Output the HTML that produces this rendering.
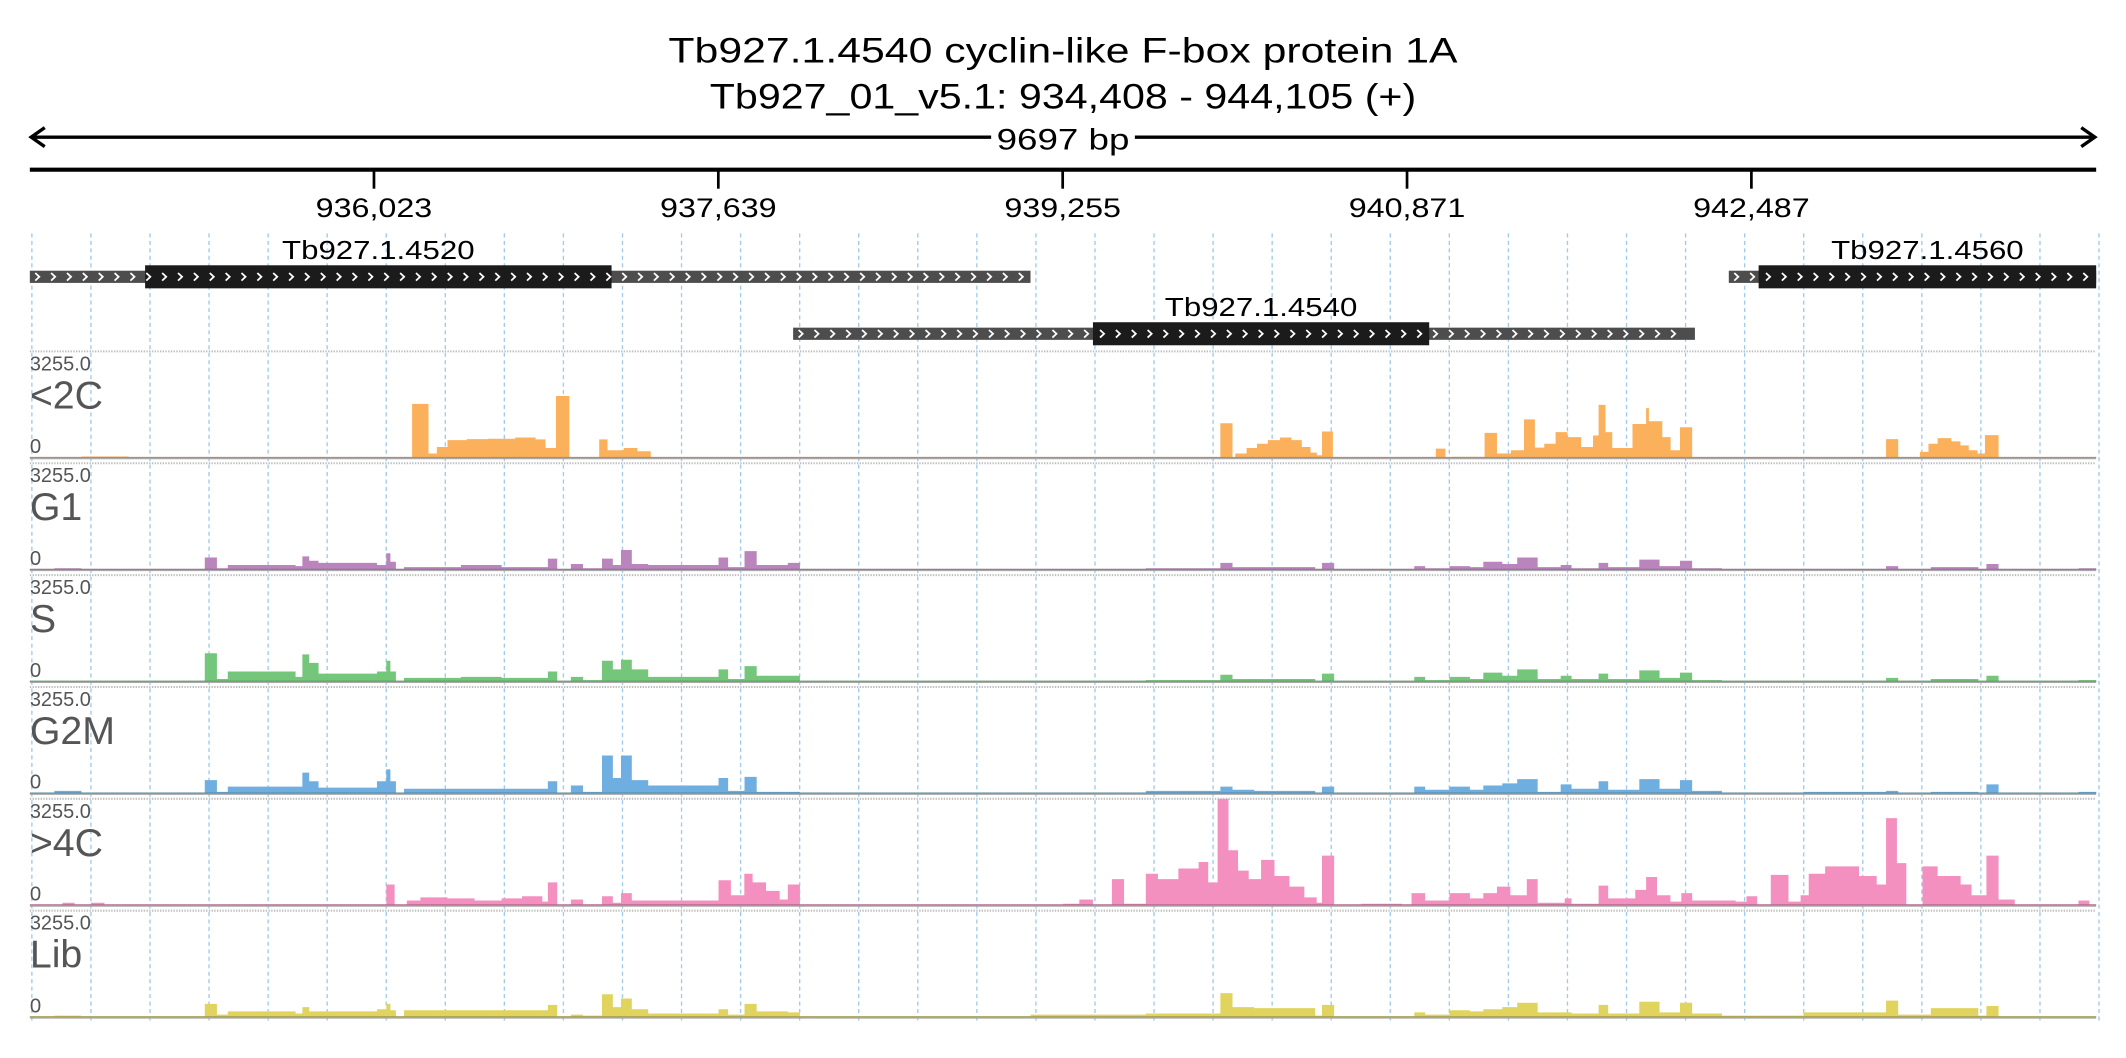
<!DOCTYPE html>
<html><head><meta charset="utf-8"><title>Tb927.1.4540 coverage</title>
<style>
html,body{margin:0;padding:0;background:#fff;}
svg{display:block;font-family:"Liberation Sans",sans-serif;}
</style></head>
<body>
<svg id="chart" width="2126" height="1058" viewBox="0 0 1568 780" xmlns="http://www.w3.org/2000/svg">
<rect x="0" y="0" width="1568" height="780" fill="#fff"/>
<text x="784" y="46" text-anchor="middle" font-size="26" textLength="582" lengthAdjust="spacingAndGlyphs">Tb927.1.4540  cyclin-like F-box protein 1A</text>
<text x="784" y="80" text-anchor="middle" font-size="26" textLength="521" lengthAdjust="spacingAndGlyphs">Tb927_01_v5.1: 934,408 - 944,105 (+)</text>
<g>
<line x1="23" y1="101" x2="1545" y2="101" stroke="#000" stroke-width="2.5"/>
<polyline points="33,94 23,101 33,108" fill="none" stroke="#000" stroke-width="2.5"/>
<polyline points="1535,94 1545,101 1535,108" fill="none" stroke="#000" stroke-width="2.5"/>
<rect x="731" y="88" width="106" height="26" fill="#fff"/>
<text x="784" y="110" text-anchor="middle" font-size="22" textLength="98" lengthAdjust="spacingAndGlyphs">9697 bp</text>
</g>
<g id="axis"></g>
<g id="grid"></g>
<g id="genes"></g>
<g id="tracks"></g>
</svg>
<script>
const REG_START = 934408;
const REG_LEN = 9697;
const Y_MAX = 3255;
const tickLabels = ["936,023","937,639","939,255","940,871","942,487"];
const tickBp = [936023,937639,939255,940871,942487];

const geneNames = ["Tb927.1.4520","Tb927.1.4540","Tb927.1.4560"];
const geneRow = [0,1,0];
const geneStart = [0,3582,7973];
const geneEnd = [4696,7814,9697];
const cdsStart = [541,4989,8113];
const cdsEnd = [2730,6567,9697];

const trackNames = ["<2C","G1","S","G2M",">4C","Lib"];

const sharedPos = [0,115,242,821,878,929,1247,1279,1311,1355,1629,1673,1692,1718,1756,2023,2214,2431,2475,2539,2596,2685,2736,2774,2825,2902,3232,3277,3354,3411,3557,3614,4696,5237,5587,5644,5746,6032,6064,6121,6497,6548,6662,6758,6821,6910,6980,7076,7184,7235,7362,7407,7553,7648,7744,7801,7941,8323,8711,8768,8921,9144,9182,9239,9405,9614];
const g1Vals = [0,65,16,391,65,163,130,423,293,228,163,521,260,33,98,163,98,358,33,195,65,358,163,618,195,163,391,98,586,163,228,16,33,65,228,98,98,33,228,33,130,65,130,98,260,195,391,98,163,65,228,98,326,130,293,65,33,33,130,33,98,33,195,33,33,65];
const sVals = [0,33,33,879,98,326,163,846,586,260,326,651,326,33,130,163,130,326,33,163,65,651,391,684,391,163,391,98,488,195,195,16,33,65,228,98,98,33,260,33,163,65,163,98,293,195,391,98,195,98,260,98,358,130,293,65,33,33,130,33,98,33,195,33,33,65];
const g2mVals = [0,98,33,423,65,228,228,651,391,195,391,749,391,33,163,163,163,391,33,260,65,1172,488,1172,423,260,488,98,521,65,65,16,33,98,228,130,98,33,228,33,228,130,228,130,260,326,456,65,293,163,391,130,456,163,423,98,33,65,98,33,65,33,293,33,33,65];
const libVals = [0,65,16,423,98,195,130,326,195,195,260,423,228,33,228,228,228,391,33,98,65,716,326,586,260,130,260,98,423,195,163,16,98,130,749,326,293,65,391,33,163,98,228,195,260,326,456,163,163,130,391,130,488,163,456,130,65,163,521,98,293,65,358,33,33,33];

const c2Pos = [0,242,464,1794,1871,1910,1960,2050,2151,2278,2373,2420,2469,2532,2672,2711,2787,2851,2914,5587,5644,5657,5710,5759,5810,5867,5920,5969,6010,6040,6064,6115,6598,6643,6675,6827,6885,6950,7012,7063,7107,7160,7216,7280,7336,7362,7394,7426,7521,7585,7598,7661,7700,7744,7801,8711,8768,8870,8910,8953,9017,9060,9099,9140,9175,9239];
const c2Vals = [0,60,0,1660,150,350,560,590,600,640,580,320,1900,0,580,250,320,220,0,1070,0,150,320,450,560,640,560,350,180,100,820,0,300,0,50,780,150,250,1190,330,450,800,650,350,700,1630,800,320,1050,1530,1130,650,250,950,0,590,0,200,450,620,520,400,250,150,710,0];

const c4Pos = [0,153,210,286,350,1005,1069,1610,1673,1712,1769,1833,1960,2087,2214,2310,2405,2431,2475,2539,2596,2685,2736,2774,2825,3042,3232,3290,3353,3392,3455,3519,3557,3614,4849,4925,4989,5078,5135,5237,5294,5390,5485,5530,5574,5625,5670,5720,5778,5841,5911,5981,6039,6064,6121,6248,6439,6484,6548,6662,6758,6821,6885,6948,7025,7076,7203,7235,7362,7407,7534,7585,7636,7699,7750,7801,8005,8056,8106,8170,8253,8310,8348,8425,8584,8667,8711,8762,8806,8882,8953,9061,9112,9182,9239,9315,9430,9557,9614,9665];
const c4Vals = [0,98,33,98,0,33,0,33,651,33,163,260,228,163,228,293,130,716,0,195,33,293,98,391,163,163,781,326,977,716,456,195,651,0,65,195,0,814,65,977,814,1139,1335,716,3255,1693,1074,814,1400,911,586,260,98,1530,0,65,0,391,163,391,228,391,586,326,814,98,228,65,618,228,488,879,326,130,391,163,130,293,0,944,130,326,977,1204,911,651,2669,1302,33,1204,911,651,326,1530,195,0,33,0,163,0];

const NS = "http://www.w3.org/2000/svg";
const X0 = 22, X1 = 1546;
function xs(off){ return X0 + off / REG_LEN * (X1 - X0); }
function mk(tag, attrs, parent){
  const e = document.createElementNS(NS, tag);
  for (const k in attrs) e.setAttribute(k, attrs[k]);
  parent.appendChild(e);
  return e;
}

// axis
const axis = document.getElementById('axis');
mk('line',{x1:X0,y1:125,x2:X1,y2:125,stroke:'#000','stroke-width':3},axis);
tickBp.forEach((bp,i)=>{
  const x = xs(bp - REG_START);
  const t = mk('line',{x1:x,y1:125,x2:x,y2:139,stroke:'#000','stroke-width':2},axis);
  
  
  const lb = mk('text',{x:x,y:160,'text-anchor':'middle','font-size':20,textLength:86,lengthAdjust:'spacingAndGlyphs'},axis);
  
  
  lb.textContent = tickLabels[i];
});

// grid
const grid = document.getElementById('grid');
for (let k=0;k<36;k++){
  const x = 23.5 + k*43.56;
  const g = mk('line',{x1:x,y1:172,x2:x,y2:753,stroke:'#9ecbee','stroke-width':1,'stroke-dasharray':'3,2.5'},grid);
  
  
}

// genes
const genes = document.getElementById('genes');
geneNames.forEach((name,i)=>{
  const cy = geneRow[i] === 0 ? 204 : 246;
  const grp = mk('g',{},genes);
  
  
  const gx0 = xs(geneStart[i]), gx1 = xs(geneEnd[i]);
  mk('rect',{x:gx0,y:cy-4.5,width:gx1-gx0,height:9,fill:'#4d4d4d'},grp);
  const cx0 = xs(cdsStart[i]), cx1 = xs(cdsEnd[i]);
  mk('rect',{x:cx0,y:cy-8.5,width:cx1-cx0,height:17,fill:'#1b1b1b'},grp);
  let d = '';
  for (let x = gx0 + 4; x < gx1 - 6; x += 11.7){
    d += 'M'+x.toFixed(1)+','+(cy-2.8)+' l3,2.8 l-3,2.8 ';
  }
  mk('path',{d:d,fill:'none',stroke:'#fff','stroke-width':1.3},grp);
  const lb = mk('text',{x:(cx0+cx1)/2,y:cy-13,'text-anchor':'middle','font-size':19,textLength:142,lengthAdjust:'spacingAndGlyphs'},grp);
  
  
  lb.textContent = name;
});

// coverage tracks
const tracks = document.getElementById('tracks');
const trackPos = [c2Pos, sharedPos, sharedPos, sharedPos, c4Pos, sharedPos];
const trackVals = [c2Vals, g1Vals, sVals, g2mVals, c4Vals, libVals];
const fills = ['#fbb05c','#b985bc','#74c67a','#6eaee0','#f490c0','#e0d45f'];
const lines = ['#c8884a','#8f6a92','#5a9a60','#55889f','#b36a8d','#aaa055'];
trackNames.forEach((nm,ti)=>{
  const top = 259 + ti*82.5;
  const base = top + 79;
  const grp = mk('g',{},tracks);
  
  
  mk('line',{x1:X0,y1:top,x2:X1,y2:top,stroke:'#bdbdbd','stroke-width':1.5,'stroke-dasharray':'1,1'},grp);
  const pos = trackPos[ti], vals = trackVals[ti];
  const ys = v => base - v / Y_MAX * (base - top);
  let d = 'M'+xs(pos[0]).toFixed(2)+','+base;
  for (let i=0;i<pos.length;i++){
    const a = xs(pos[i]);
    const b = xs(i+1<pos.length ? pos[i+1] : REG_LEN);
    const y = ys(vals[i]).toFixed(2);
    d += ' L'+a.toFixed(2)+','+y+' L'+b.toFixed(2)+','+y;
  }
  d += ' L'+xs(REG_LEN).toFixed(2)+','+base+' Z';
  const area = mk('path',{d:d,fill:fills[ti],stroke:'none'},grp);
  
  
  mk('line',{x1:X0,y1:base,x2:X1,y2:base,stroke:'#a8a8a8','stroke-width':1.2},grp);
  mk('line',{x1:X0,y1:base-0.8,x2:X1,y2:base-0.8,stroke:lines[ti],'stroke-width':0.8},grp);
  const mx = mk('text',{x:22,y:top+14,'font-size':15,fill:'#555',textLength:45,lengthAdjust:'spacingAndGlyphs'},grp);
  
  
  mx.textContent = '3255.0';
  const nl = mk('text',{x:22,y:top+42,'font-size':29,fill:'#555'},grp);
  
  
  nl.textContent = nm;
  const zl = mk('text',{x:22,y:base-4,'font-size':15,fill:'#555'},grp);
  
  
  zl.textContent = '0';
});
</script>
</body></html>
